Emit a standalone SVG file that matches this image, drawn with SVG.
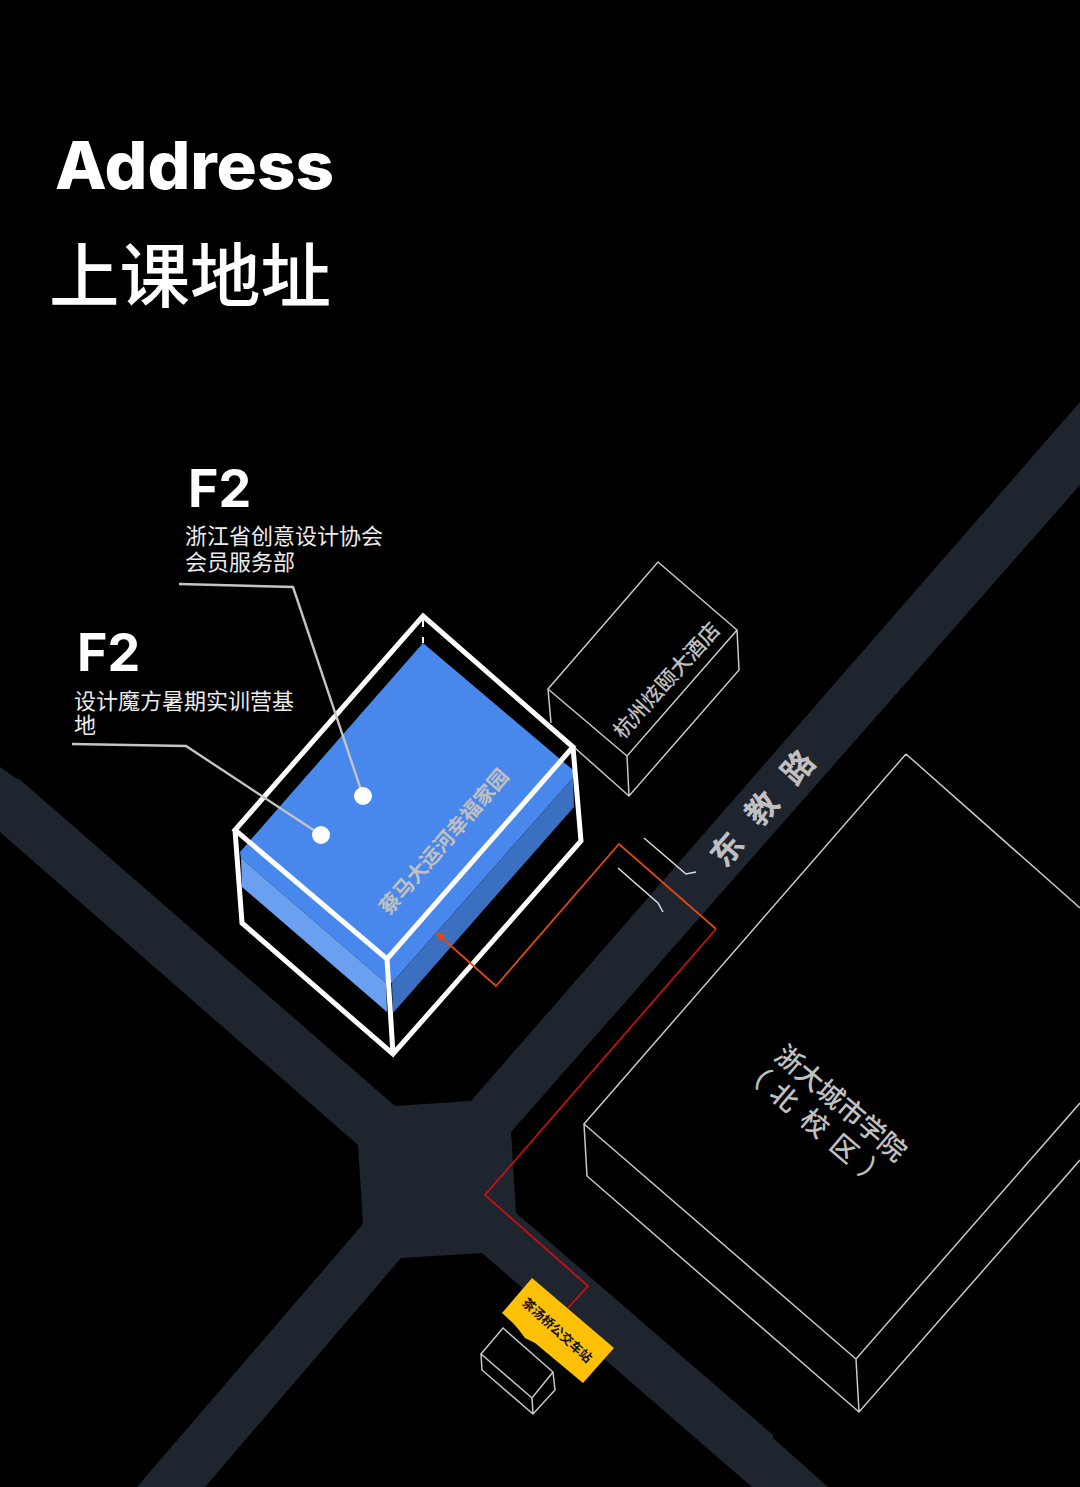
<svg xmlns="http://www.w3.org/2000/svg" width="1080" height="1487" viewBox="0 0 1080 1487">
<style>
.road{fill:#1f252f}
.thin{fill:none;stroke:#c8c8c8;stroke-width:1.5}
.wire{fill:none;stroke:#fff;stroke-width:5;stroke-linejoin:miter}
.lead{fill:none;stroke:#c4c4c4;stroke-width:2.4}
.sans{font-family:"Noto Sans CJK SC","Liberation Sans",sans-serif}
.head{font-family:"Inter","Liberation Sans",sans-serif;font-weight:700;fill:#fff}
.lab{font-family:"Noto Sans CJK SC",sans-serif;fill:#ececec;font-size:22px}
.gry{font-family:"Noto Sans CJK SC",sans-serif;fill:#c0c0c0;font-weight:500}
.bold{font-weight:700}
</style>
<rect width="1080" height="1487" fill="#000"/>
<g id="roads">
<path class="road" d="M0 767L17 779L18 778L395 1106L471 1101L1080 402V485L511 1132L516 1213L773 1435L773 1438L828 1487H752L482 1253L401 1258L205 1487H137L363 1224L358 1145L0 832Z"/>
</g>
<g id="title">
<text class="head" x="55" y="189" font-size="66" style="font-weight:800" textLength="279" lengthAdjust="spacingAndGlyphs">Address</text>
<text x="49" y="302" font-size="70.5" fill="#fff" class="sans" font-weight="500">上课地址</text>
</g>
<g id="hotel">
<path class="thin" d="M658 562L737 630L627 756L548 689ZM548 689L551 723M575 748L629 796L739 670L737 630M627 756L629 796"/>
<text class="gry" font-size="21" transform="translate(623 740) rotate(-48)">杭州炫颐大酒店</text>
</g>
<g id="college">
<path class="thin" d="M906 754L1080 908M906 754L584 1124L856 1359L1080 1103M584 1124L587 1176L859 1412L1080 1160M856 1359L859 1412"/>
<text class="gry" font-size="27" transform="translate(773 1058) rotate(40.4)">浙大城市学院</text>
<text class="gry" font-size="27" transform="translate(755.5 1085.6) rotate(40.4)" x="-21 16 56 95 133">（北校区）</text>
</g>
<g id="road-label">
<text class="gry" font-size="32" style="font-weight:600" transform="translate(725 869) rotate(-49)">东</text>
<text class="gry" font-size="32" style="font-weight:600" transform="translate(760 828) rotate(-49)">教</text>
<text class="gry" font-size="32" style="font-weight:600" transform="translate(796 787) rotate(-49)">路</text>
</g>
<g id="building">
<path d="M423 643L573 770V778L392 983H386L241 858L240 852Z" fill="#4887eb"/>
<path d="M573 778L574 807L393 1013L392 983Z" fill="#3b6fbf"/>
<path d="M241 858L386 983L387 1012L242 887Z" fill="#6ba0f0"/>
<path class="wire" d="M423 616L573 747L387 959L235 830ZM235 830L242 923L393 1054L581 841L573 747M387 959L393 1054"/>
<path d="M423 620V627M423 637V643" stroke="#fff" stroke-width="2" fill="none"/>
<text class="gry bold" font-size="20.5" transform="translate(389 916) rotate(-49)">蔡马大运河幸福家园</text>
</g>
<g id="connectors">
<path class="lead" d="M179 584L293 587L363 796"/>
<path class="lead" d="M72 744L186 746L321 835"/>
<path d="M644 838L686 874L696 872M618 868L658 903L663 912" fill="none" stroke="#dcdcdc" stroke-width="1.5"/>
<path d="M716 929L485 1195L588 1286L568 1308" fill="none" stroke="#d01010" stroke-width="1.7"/>
<path d="M716 929L619 844L496 986L441 937" fill="none" stroke="#e04a10" stroke-width="1.7"/>
<path d="M435 932L446 935L440 941Z" fill="#e04a10"/>
</g>
<g id="f2-upper">
<text class="head" x="188" y="507" font-size="52">F2</text>
<text class="lab"><tspan x="185" y="544">浙江省创意设计协会</tspan><tspan x="185" y="569.5">会员服务部</tspan></text>
<circle cx="363" cy="796" r="9" fill="#fff"/>
</g>
<g id="f2-lower">
<text class="head" x="77" y="671" font-size="52">F2</text>
<text class="lab"><tspan x="74" y="709">设计魔方暑期实训营基</tspan><tspan x="74" y="733">地</tspan></text>
<circle cx="321" cy="835" r="9" fill="#fff"/>
</g>
<g id="bus-stop">
<path d="M532 1278L614 1348L583 1383L535 1343L525 1338L519 1330L513 1323L502 1313Z" fill="#ffc107"/>
<text font-size="12.7" font-weight="700" fill="#111" class="sans" transform="translate(521.3 1304) rotate(42)">茶汤桥公交车站</text>
</g>
<g id="kiosk">
<path class="thin" d="M503 1328L553 1372L532 1398L481 1354ZM481 1354L482 1370L533 1414L555 1390L553 1372M532 1398L533 1414"/>
</g>
</svg>
